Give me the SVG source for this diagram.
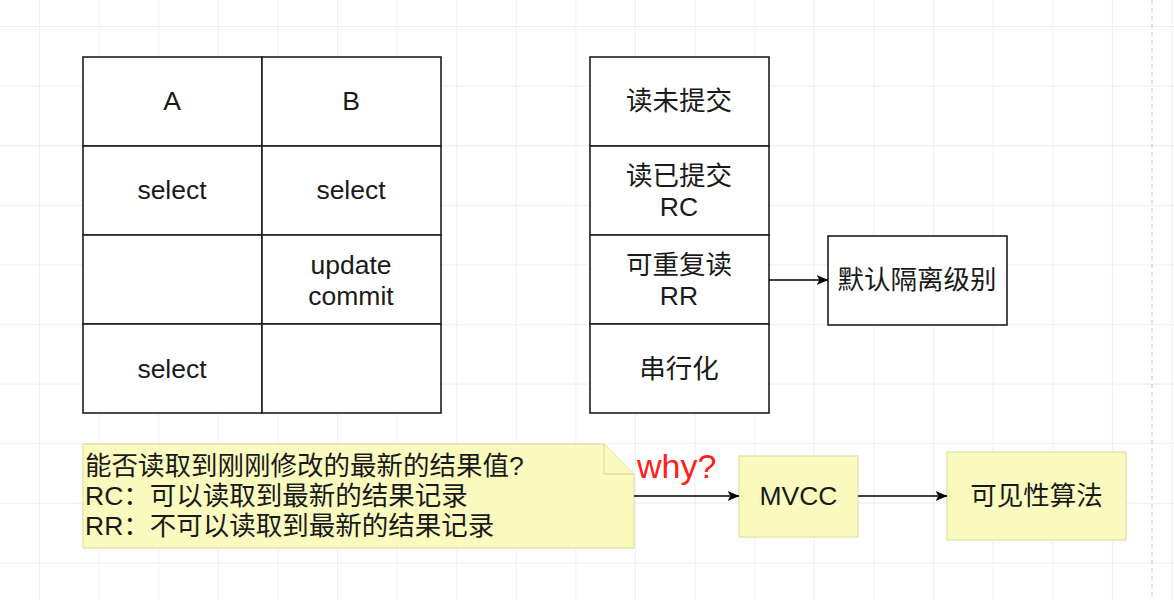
<svg xmlns="http://www.w3.org/2000/svg" width="1174" height="600" viewBox="0 0 1174 600">
<style>
.cell{fill:#ffffff;stroke:#1e1e1e;stroke-width:1.6}
.yel{fill:#fbfbc0;stroke:#e2e2a6;stroke-width:1.3}
.t{font-family:"Liberation Sans","Noto Sans CJK SC",sans-serif;font-size:26.5px;fill:#1a1a1a;text-anchor:middle}
.tl{font-family:"Liberation Sans","Noto Sans CJK SC",sans-serif;font-size:26.5px;fill:#1a1a1a}
.why{font-family:"Liberation Sans",sans-serif;font-size:34px;fill:#ff2020}
.edge{stroke:#000;stroke-width:1.6;fill:none}
</style>
<defs>
<pattern id="grid" patternUnits="userSpaceOnUse" x="39" y="26" width="59.6" height="59.6">
<path d="M0,0 H59.6 M0,0 V59.6" stroke="#e9e9e9" stroke-width="1.3" fill="none"/>
</pattern>
<marker id="arr" viewBox="0 0 12 10" refX="11.5" refY="5" markerWidth="12" markerHeight="10" markerUnits="userSpaceOnUse" orient="auto">
<path d="M0,0 L12,5 L0,10 L3,5 Z" fill="#000"/>
</marker>
</defs>
<rect width="1174" height="600" fill="#ffffff"/>
<rect width="1174" height="600" fill="url(#grid)"/>
<line x1="1152" y1="0" x2="1152" y2="600" stroke="#cfcfcf" stroke-width="1.2" stroke-dasharray="4,4"/>

<g id="table-ab">
<rect class="cell" x="83" y="57" width="179" height="89"/>
<rect class="cell" x="262" y="57" width="179" height="89"/>
<rect class="cell" x="83" y="146" width="179" height="89"/>
<rect class="cell" x="262" y="146" width="179" height="89"/>
<rect class="cell" x="83" y="235" width="179" height="89"/>
<rect class="cell" x="262" y="235" width="179" height="89"/>
<rect class="cell" x="83" y="324" width="179" height="89"/>
<rect class="cell" x="262" y="324" width="179" height="89"/>
<text class="t" x="172" y="110">A</text>
<text class="t" x="351" y="110">B</text>
<text class="t" x="172" y="199">select</text>
<text class="t" x="351" y="199">select</text>
<text class="t" x="351" y="274">update</text>
<text class="t" x="351" y="305">commit</text>
<text class="t" x="172" y="378">select</text>
</g>

<g id="isolation-levels">
<rect class="cell" x="590" y="57" width="179" height="89"/>
<rect class="cell" x="590" y="146" width="179" height="89"/>
<rect class="cell" x="590" y="235" width="179" height="89"/>
<rect class="cell" x="590" y="324" width="179" height="89"/>
<text class="t" x="679" y="110">读未提交</text>
<text class="t" x="679" y="185">读已提交</text>
<text class="t" x="679" y="216">RC</text>
<text class="t" x="679" y="274">可重复读</text>
<text class="t" x="679" y="305">RR</text>
<text class="t" x="679" y="378">串行化</text>
</g>

<g id="default-level">
<rect class="cell" x="828" y="236" width="179" height="89"/>
<text class="t" x="917" y="289">默认隔离级别</text>
</g>

<g id="note">
<path class="yel" d="M83,444 H604 L634,474 V548 H83 Z"/>
<path class="yel" d="M604,444 V474 H634"/>
<text class="tl" x="85" y="475">能否读取到刚刚修改的最新的结果值?</text>
<text class="tl" x="85" y="505">RC：可以读取到最新的结果记录</text>
<text class="tl" x="85" y="535">RR：不可以读取到最新的结果记录</text>
</g>

<g id="why-label">
<text class="why" x="637" y="478">why?</text>
</g>

<g id="mvcc">
<rect class="yel" x="739" y="456" width="119" height="81"/>
<text class="t" x="798.5" y="505">MVCC</text>
</g>

<g id="visibility">
<rect class="yel" x="947" y="452" width="179" height="88"/>
<text class="t" x="1036.5" y="505">可见性算法</text>
</g>

<g id="connectors">
<line class="edge" x1="769" y1="280" x2="828" y2="280" marker-end="url(#arr)"/>
<line class="edge" x1="634" y1="496" x2="739" y2="496" marker-end="url(#arr)"/>
<line class="edge" x1="858" y1="496" x2="947" y2="496" marker-end="url(#arr)"/>
</g>
</svg>
